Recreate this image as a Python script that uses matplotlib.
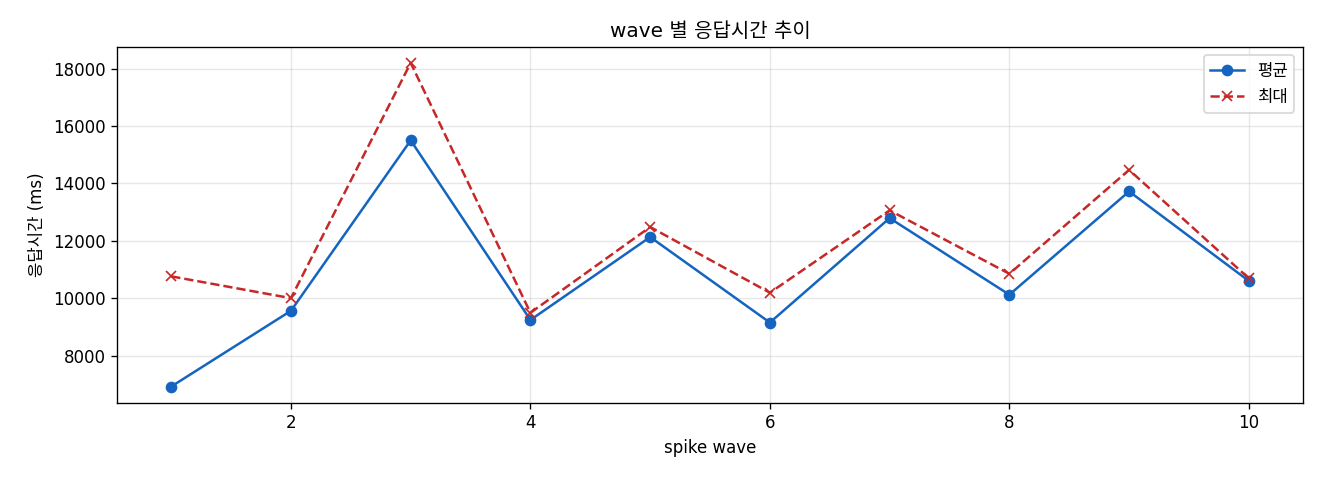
import matplotlib
matplotlib.use("Agg")
import matplotlib.pyplot as plt

# latin glyphs from DejaVu, hangul falls through to Noto CJK
plt.rcParams['font.family'] = ['DejaVu Sans', 'Noto Sans CJK KR']
plt.rcParams['axes.unicode_minus'] = False

waves = [1, 2, 3, 4, 5, 6, 7, 8, 9, 10]
avg_ms = [6920, 9560, 15500, 9240, 12130, 9150, 12790, 10120, 13720, 10600]
max_ms = [10760, 10000, 18200, 9490, 12480, 10190, 13060, 10850, 14470, 10690]

fig, ax = plt.subplots(figsize=(11, 4), dpi=120)
ax.plot(waves, avg_ms, marker="o", color="#1565C0", label="평균")
ax.plot(waves, max_ms, marker="x", linestyle="--", color="#C62828", label="최대")
ax.set_title("wave 별 응답시간 추이")
ax.set_xlabel("spike wave")
ax.set_ylabel("응답시간 (ms)")
ax.grid(True, alpha=0.3)
ax.legend()
fig.subplots_adjust(left=0.0889, right=0.9869, top=0.9027, bottom=0.161)
fig.savefig("out.png", dpi=120)
